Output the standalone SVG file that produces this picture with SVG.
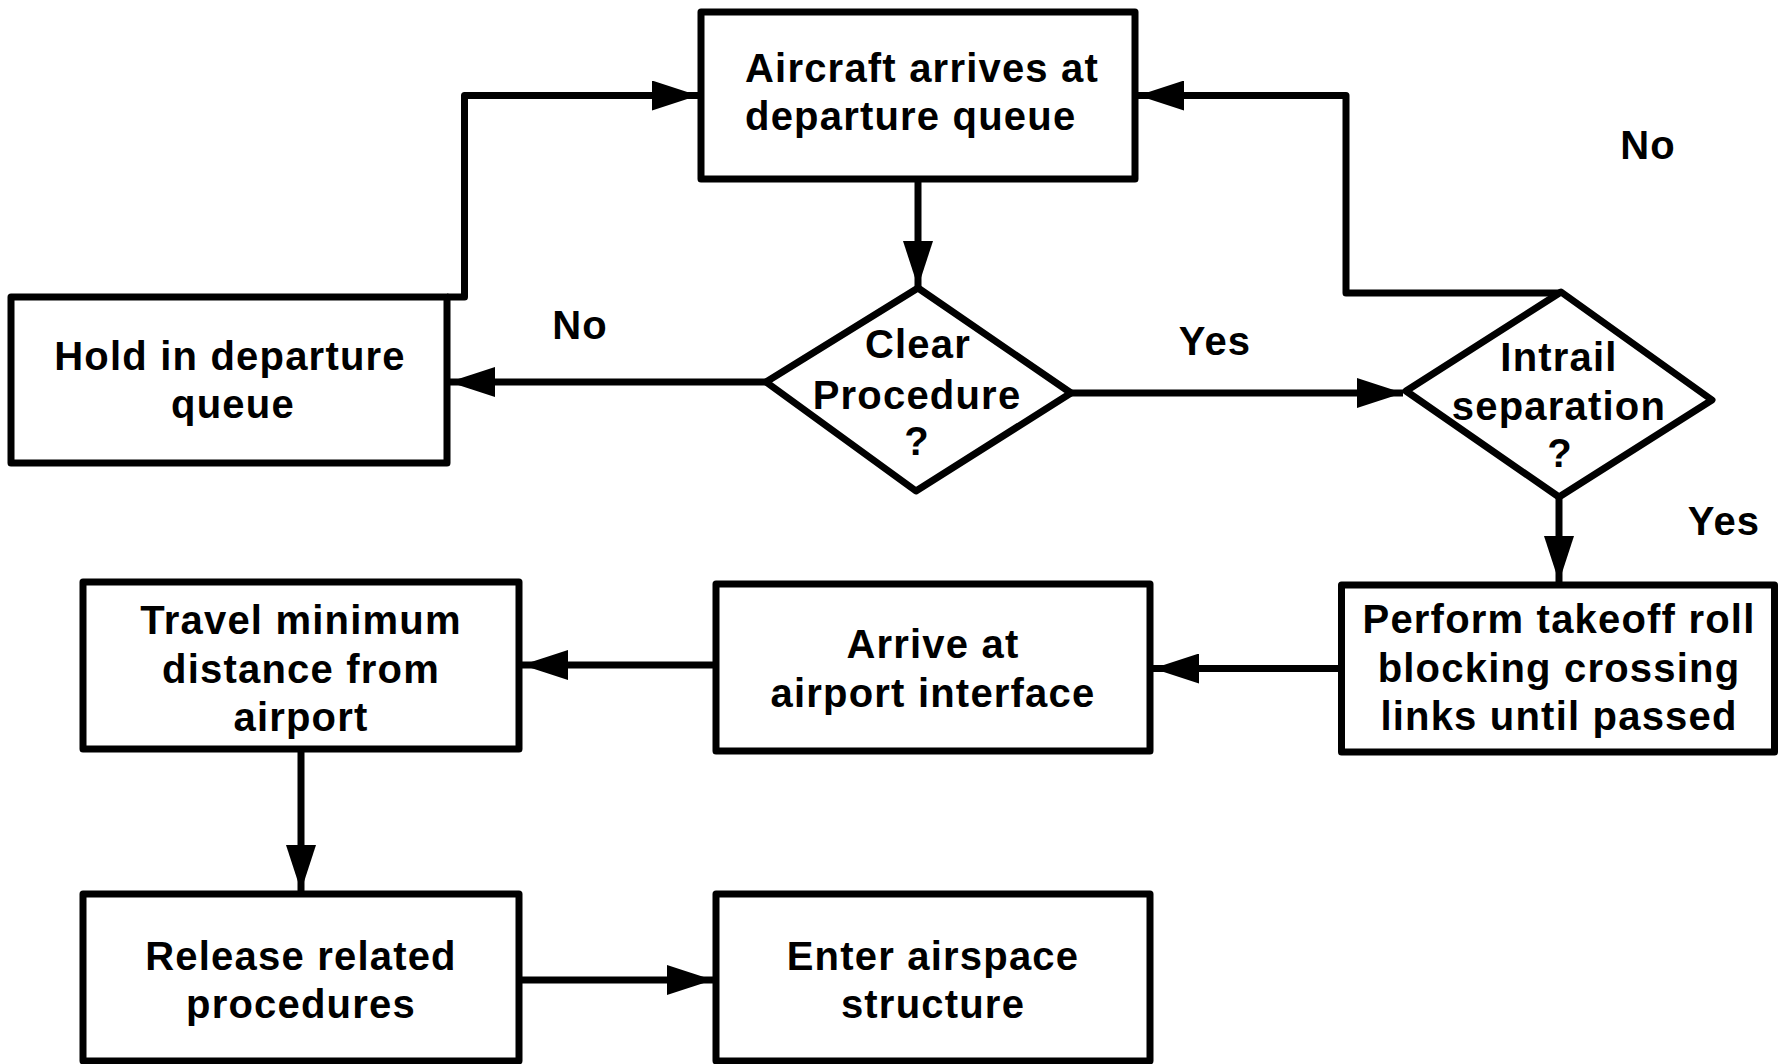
<svg xmlns="http://www.w3.org/2000/svg" width="1778" height="1064" viewBox="0 0 1778 1064">
<style>
.box{fill:#fff;stroke:#000;stroke-width:7;stroke-linejoin:round}
.t{font-family:"Liberation Sans",Arial,sans-serif;font-weight:bold;font-size:40px;letter-spacing:1.2px;fill:#000;text-anchor:middle}
.l{text-anchor:start}
.c{fill:none;stroke:#000;stroke-width:7;stroke-linejoin:round}
</style>
<defs>
<marker id="ah" markerUnits="userSpaceOnUse" markerWidth="46" markerHeight="30" refX="46" refY="15" orient="auto">
<path d="M0,0 L46,15 L0,30 z" fill="#000"/>
</marker>
</defs>
<rect width="1778" height="1064" fill="#fff"/>
<g id="connectors">
<path class="c" d="M918,179 V287" marker-end="url(#ah)"/>
<path class="c" d="M766,382 H449" marker-end="url(#ah)"/>
<path class="c" d="M447,297 H464.5 V95.5 H698" marker-end="url(#ah)"/>
<path class="c" d="M1071,393 H1403" marker-end="url(#ah)"/>
<path class="c" d="M1561,293 H1346 V95.5 H1138" marker-end="url(#ah)"/>
<path class="c" d="M1559,497 V582" marker-end="url(#ah)"/>
<path class="c" d="M1341,668.5 H1153" marker-end="url(#ah)"/>
<path class="c" d="M716,665 H522" marker-end="url(#ah)"/>
<path class="c" d="M301,749 V891" marker-end="url(#ah)"/>
<path class="c" d="M519,980 H713" marker-end="url(#ah)"/>
</g>
<g id="n-arrives">
<rect class="box" x="701" y="12" width="434" height="167"/>
<text class="t l" x="745" y="82">Aircraft arrives at</text>
<text class="t l" x="745" y="130">departure queue</text>
</g>
<g id="n-hold">
<rect class="box" x="11" y="297" width="436" height="166"/>
<text class="t" x="230" y="370">Hold in departure</text>
<text class="t" x="233" y="418">queue</text>
</g>
<g id="n-clear">
<polygon class="box" points="918,288 1071,393 916,491 766,382"/>
<text class="t" x="918" y="358">Clear</text>
<text class="t" x="917" y="409">Procedure</text>
<text class="t" x="917" y="455">?</text>
</g>
<g id="n-intrail">
<polygon class="box" points="1561,292 1712,400 1559,497 1406,391"/>
<text class="t" x="1559" y="371">Intrail</text>
<text class="t" x="1559" y="420">separation</text>
<text class="t" x="1560" y="467">?</text>
</g>
<g id="n-perform">
<rect class="box" x="1341.5" y="585" width="433" height="167"/>
<text class="t" x="1559" y="633">Perform takeoff roll</text>
<text class="t" x="1559" y="682">blocking crossing</text>
<text class="t" x="1559" y="730">links until passed</text>
</g>
<g id="n-arrive">
<rect class="box" x="716" y="584" width="434" height="167"/>
<text class="t" x="933" y="658">Arrive at</text>
<text class="t" x="933" y="707">airport interface</text>
</g>
<g id="n-travel">
<rect class="box" x="83" y="582" width="436" height="167"/>
<text class="t" x="301" y="634">Travel minimum</text>
<text class="t" x="301" y="683">distance from</text>
<text class="t" x="301" y="731">airport</text>
</g>
<g id="n-release">
<rect class="box" x="83" y="894" width="436" height="167"/>
<text class="t" x="301" y="970">Release related</text>
<text class="t" x="301" y="1018">procedures</text>
</g>
<g id="n-enter">
<rect class="box" x="716" y="894" width="434" height="167"/>
<text class="t" x="933" y="970">Enter airspace</text>
<text class="t" x="933" y="1018">structure</text>
</g>
<g id="labels">
<text class="t" x="580" y="339">No</text>
<text class="t" x="1215" y="355">Yes</text>
<text class="t" x="1648" y="159">No</text>
<text class="t" x="1724" y="535">Yes</text>
</g>
</svg>
